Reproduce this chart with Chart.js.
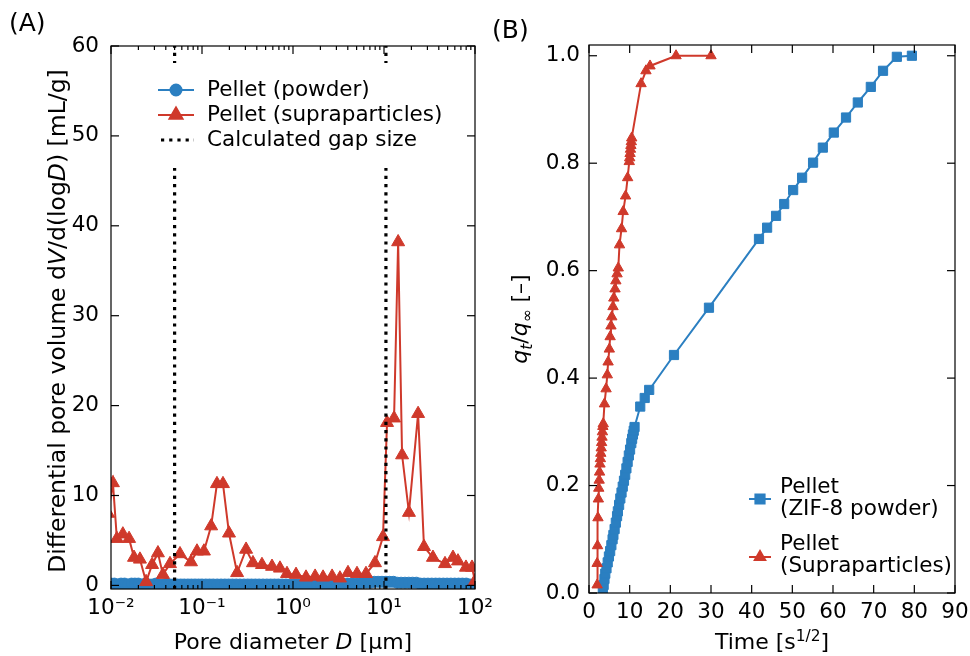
<!DOCTYPE html>
<html>
<head>
<meta charset="utf-8">
<script src="https://cdn.jsdelivr.net/npm/chart.js@4.4.0/dist/chart.umd.min.js"></script>
<style>
  html, body { margin: 0; padding: 0; background: #fff; }
  #wrap { position: relative; width: 970px; height: 656px; overflow: hidden; }
  canvas { position: absolute; top: 0; }
  #ca { left: 0; }
  #cb { left: 485px; }
</style>
</head>
<body>
<div id="wrap">
  <canvas id="ca" width="520" height="656"></canvas>
  <canvas id="cb" width="485" height="656"></canvas>
</div>
<script>
// ---------------- Panel A data ----------------
const poreDiamSupra = [0.0093, 0.0105, 0.0116, 0.0135, 0.0158, 0.0179, 0.0208, 0.0243, 0.0283, 0.0328,
  0.0372, 0.0445, 0.0573, 0.0757, 0.0881, 0.105, 0.126, 0.146, 0.170, 0.198,
  0.243, 0.305, 0.363, 0.456, 0.588, 0.719, 0.859, 1.08, 1.39, 1.75,
  2.14, 2.69, 3.28, 4.02, 5.05, 6.34, 7.96, 9.75, 10.8, 12.9,
  14.3, 15.8, 18.8, 23.7, 27.5, 34.5, 46.8, 57.3, 65.0, 79.6,
  92.7, 100, 110];
const poreVolSupra = [8.0, 11.4, 5.2, 5.7, 5.2, 3.1, 2.9, 0.4, 2.3, 3.6,
  1.2, 2.4, 3.5, 2.6, 3.8, 3.8, 6.6, 11.3, 11.3, 5.8,
  1.4, 4.0, 2.5, 2.3, 2.1, 1.9, 1.3, 1.2, 0.9, 1.0,
  0.9, 1.0, 0.8, 1.4, 1.3, 1.3, 2.5, 5.4, 18.1, 18.6,
  38.2, 14.5, 8.1, 19.1, 4.3, 3.1, 2.4, 3.1, 2.7, 2.0,
  2.0, 0.5, 2.0];

const poreDiamPowder = [0.0100, 0.0109, 0.0118, 0.0129, 0.0141, 0.0154, 0.0168, 0.0183, 0.0200, 0.0219,
  0.0239, 0.0261, 0.0285, 0.0312, 0.0341, 0.0373, 0.0408, 0.0446, 0.0488, 0.0534,
  0.0584, 0.0639, 0.0700, 0.0766, 0.0838, 0.0917, 0.100, 0.110, 0.121, 0.133,
  0.147, 0.162, 0.178, 0.196, 0.216, 0.238, 0.262, 0.289, 0.318, 0.350,
  0.386, 0.425, 0.468, 0.516, 0.568, 0.626, 0.690, 0.760, 0.837, 0.922,
  1.02, 1.12, 1.24, 1.36, 1.50, 1.66, 1.83, 2.01, 2.22, 2.44,
  2.69, 2.97, 3.27, 3.60, 3.97, 4.37, 4.82, 5.31, 5.85, 6.44,
  7.10, 7.82, 8.62, 9.50, 10.5, 11.5, 12.7, 14.0, 15.4, 17.0,
  18.7, 20.6, 22.7, 25.0, 27.6, 30.4, 33.5, 36.9, 40.6, 44.8,
  49.3, 54.3, 59.9, 66.0, 72.7, 80.1, 88.2, 97.2];
const poreVolPowder = [0.2, 0.2, 0.1, 0.2, 0.2, 0.1, 0.2, 0.2, 0.2, 0.1,
  0.2, 0.1, 0.1, 0.2, 0.1, 0.1, 0.2, 0.1, 0.1, 0.1,
  0.1, 0.1, 0.1, 0.1, 0.1, 0.1, 0.1, 0.1, 0.1, 0.1,
  0.1, 0.1, 0.1, 0.1, 0.1, 0.1, 0.1, 0.1, 0.1, 0.1,
  0.1, 0.1, 0.1, 0.1, 0.1, 0.1, 0.1, 0.1, 0.1, 0.1,
  0.1, 0.1, 0.1, 0.1, 0.1, 0.1, 0.1, 0.1, 0.1, 0.1,
  0.1, 0.1, 0.1, 0.1, 0.2, 0.2, 0.2, 0.2, 0.3, 0.3,
  0.3, 0.4, 0.4, 0.4, 0.4, 0.4, 0.4, 0.3, 0.3, 0.3,
  0.3, 0.3, 0.3, 0.2, 0.2, 0.2, 0.2, 0.2, 0.2, 0.2,
  0.2, 0.2, 0.2, 0.2, 0.2, 0.2, 0.1, 0.1];

const gapSizes = [0.05, 10.5];
const poreTickValues = [0.01, 0.1, 1, 10, 100];
const poreTickLabels = ['10\u207B\u00B2', '10\u207B\u00B9', '10\u2070', '10\u00B9', '10\u00B2'];
const volTickValues = [0, 10, 20, 30, 40, 50, 60];
const legendA = ['Pellet (powder)', 'Pellet (supraparticles)', 'Calculated gap size'];

// ---------------- Panel B data ----------------
const timePowder = [3.4, 3.6, 3.8, 4.0, 4.3, 4.6, 4.9, 5.2, 5.5, 5.8,
  6.0, 6.3, 6.6, 6.9, 7.1, 7.4, 7.7, 8.0, 8.3, 8.6,
  8.9, 9.2, 9.5, 9.8, 10.1, 10.4, 10.6, 10.8, 11.0, 11.2,
  12.6, 13.7, 14.8, 20.9, 29.5, 41.8, 43.8, 46.0, 48.0, 50.2,
  52.4, 55.1, 57.5, 60.2, 63.2, 66.1, 69.3, 72.3, 75.7, 79.4];
const uptakePowder = [0.002, 0.015, 0.026, 0.036, 0.046, 0.057, 0.068, 0.078, 0.089, 0.100,
  0.108, 0.119, 0.131, 0.143, 0.152, 0.164, 0.176, 0.187, 0.198, 0.209,
  0.220, 0.232, 0.244, 0.256, 0.267, 0.279, 0.287, 0.295, 0.302, 0.309,
  0.347, 0.363, 0.378, 0.443, 0.531, 0.659, 0.680, 0.702, 0.724, 0.750,
  0.773, 0.801, 0.829, 0.857, 0.885, 0.913, 0.942, 0.972, 0.998, 1.0];

const timeSupra = [2.0, 2.0, 2.1, 2.2, 2.3, 2.4, 2.5, 2.6, 2.7, 2.8,
  2.9, 3.0, 3.1, 3.2, 3.3, 3.4, 3.5, 3.8, 4.2, 4.5,
  4.7, 5.0, 5.2, 5.4, 5.6, 5.9, 6.1, 6.4, 6.6, 6.9,
  7.2, 7.5, 8.0, 8.4, 9.0, 9.5, 9.9, 10.0, 10.1, 10.2,
  10.3, 10.4, 10.5, 12.8, 14.0, 15.0, 21.4, 30.0];
const uptakeSupra = [0.015, 0.055, 0.088, 0.14, 0.175, 0.195, 0.21, 0.225, 0.24, 0.25,
  0.26, 0.27, 0.28, 0.29, 0.30, 0.31, 0.315, 0.352, 0.380, 0.406,
  0.430, 0.454, 0.477, 0.497, 0.514, 0.533, 0.549, 0.566, 0.581, 0.594,
  0.605, 0.648, 0.678, 0.710, 0.739, 0.773, 0.803, 0.810, 0.818, 0.826,
  0.833, 0.840, 0.847, 0.948, 0.972, 0.981, 1.0, 1.0];

const timeTickValues = [0, 10, 20, 30, 40, 50, 60, 70, 80, 90];
const uptakeTickValues = [0, 0.2, 0.4, 0.6, 0.8, 1.0];
const legendB = [['Pellet', '(ZIF-8 powder)'], ['Pellet', '(Supraparticles)']];

// ---------------- styling ----------------
const BLUE = '#2b7fc1';
const RED = '#cf392b';
const FONT = '"DejaVu Sans", sans-serif';
const FS = 21.5;   // tick labels / legend
const TS = 22;     // axis titles
const TSY = 23.5;  // long vertical title in panel A

function segFont(s, size) {
  const sz = (s.sub || s.sup) ? size * 0.7 : size;
  return (s.it ? 'italic ' : '') + sz + 'px ' + FONT;
}
function drawRich(ctx, segs, cx, cy, size, rot) {
  ctx.save();
  ctx.translate(cx, cy);
  if (rot) ctx.rotate(-Math.PI / 2);
  ctx.fillStyle = '#000';
  ctx.textBaseline = 'alphabetic';
  ctx.textAlign = 'left';
  let w = 0;
  segs.forEach(s => { ctx.font = segFont(s, size); w += ctx.measureText(s.t).width; });
  let x = -w / 2;
  const base = size * 0.36;
  segs.forEach(s => {
    ctx.font = segFont(s, size);
    const dy = s.sub ? size * 0.22 : (s.sup ? -size * 0.38 : 0);
    ctx.fillText(s.t, x, base + dy);
    x += ctx.measureText(s.t).width;
  });
  ctx.restore();
}
function drawFrame(ctx, a) {
  ctx.save();
  ctx.strokeStyle = '#000';
  ctx.lineWidth = 1.2;
  ctx.strokeRect(a.left, a.top, a.right - a.left, a.bottom - a.top);
  ctx.restore();
}
function tickLine(ctx, x1, y1, x2, y2) {
  ctx.beginPath(); ctx.moveTo(x1, y1); ctx.lineTo(x2, y2); ctx.stroke();
}
function legendSample(ctx, x1, x2, y, color, style, radius) {
  ctx.save();
  ctx.strokeStyle = color; ctx.lineWidth = 2;
  tickLine(ctx, x1, y, x2, y);
  ctx.fillStyle = color;
  Chart.helpers.drawPoint(ctx, { pointStyle: style, radius: radius, borderWidth: 1, rotation: 0 }, (x1 + x2) / 2, y);
  ctx.restore();
}
function noPad(s) { s.paddingLeft = 0; s.paddingRight = 0; s.paddingTop = 0; s.paddingBottom = 0; }

// ---------------- Panel A ----------------
const decorA = {
  id: 'decorA',
  afterDatasetsDraw(chart) {
    const ctx = chart.ctx, a = chart.chartArea;
    const xs = chart.scales.x, ys = chart.scales.y;
    ctx.save();
    ctx.beginPath(); ctx.rect(a.left, a.top, a.right - a.left, a.bottom - a.top); ctx.clip();
    // gap lines
    ctx.strokeStyle = '#000'; ctx.lineWidth = 3.2; ctx.setLineDash([3.2, 5]);
    gapSizes.forEach(g => {
      const px = xs.getPixelForValue(g);
      tickLine(ctx, px, a.bottom, px, a.top);
    });
    ctx.setLineDash([]);
    // legend background
    ctx.fillStyle = '#fff';
    ctx.fillRect(150, 63, 318, 105);
    ctx.restore();
    const rowY = [90, 115, 140];
    legendSample(ctx, 158, 194, rowY[0], BLUE, 'circle', 5.5);
    legendSample(ctx, 158, 194, rowY[1], RED, 'triangle', 7.5);
    ctx.save();
    ctx.strokeStyle = '#000'; ctx.lineWidth = 3.2; ctx.setLineDash([3.2, 5]);
    tickLine(ctx, 161, rowY[2], 194, rowY[2]);
    ctx.restore();
    ctx.save();
    ctx.fillStyle = '#000'; ctx.font = FS + 'px ' + FONT; ctx.textBaseline = 'middle';
    legendA.forEach((t, i) => ctx.fillText(t, 207, rowY[i]));
    ctx.restore();
    // frame + inward ticks
    drawFrame(ctx, a);
    ctx.save();
    ctx.strokeStyle = '#000'; ctx.lineWidth = 1.2;
    volTickValues.forEach(v => {
      const py = ys.getPixelForValue(v);
      tickLine(ctx, a.left, py, a.left + 8, py);
      tickLine(ctx, a.right, py, a.right - 8, py);
    });
    poreTickValues.forEach((v, i) => {
      const px = xs.getPixelForValue(v);
      tickLine(ctx, px, a.bottom, px, a.bottom - 8);
      tickLine(ctx, px, a.top, px, a.top + 8);
      if (i < poreTickValues.length - 1) {
        for (let m = 2; m <= 9; m++) {
          const pm = xs.getPixelForValue(v * m);
          tickLine(ctx, pm, a.bottom, pm, a.bottom - 4);
          tickLine(ctx, pm, a.top, pm, a.top + 4);
        }
      }
    });
    ctx.restore();
    // axis titles & panel label
    drawRich(ctx, [{ t: 'Differential pore volume d' }, { t: 'V', it: 1 }, { t: '/d(log' }, { t: 'D', it: 1 }, { t: ') [mL/g]' }],
      57, 321, TSY, true);
    drawRich(ctx, [{ t: 'Pore diameter ' }, { t: 'D', it: 1 }, { t: ' [\u00B5m]' }], (a.left + a.right) / 2, 641, TS, false);
    ctx.save();
    ctx.fillStyle = '#000'; ctx.font = '25px ' + FONT; ctx.textBaseline = 'middle';
    ctx.fillText('(A)', 9, 24);
    ctx.restore();
  }
};

new Chart(document.getElementById('ca'), {
  type: 'line',
  data: {
    datasets: [
      {
        label: legendA[1],
        data: poreDiamSupra.map((d, i) => ({ x: d, y: poreVolSupra[i] })),
        borderColor: RED, backgroundColor: RED, pointBackgroundColor: RED, pointBorderColor: RED,
        borderWidth: 2, pointStyle: 'triangle', pointRadius: 7.5, pointBorderWidth: 1, order: 0
      },
      {
        label: legendA[0],
        data: poreDiamPowder.map((d, i) => ({ x: d, y: poreVolPowder[i] })),
        borderColor: BLUE, backgroundColor: BLUE, pointBackgroundColor: BLUE, pointBorderColor: BLUE,
        borderWidth: 2, pointStyle: 'circle', pointRadius: 5.5, pointBorderWidth: 1, order: 1
      }
    ]
  },
  options: {
    responsive: false, animation: false, devicePixelRatio: 1,
    layout: { padding: { left: 0, right: 45, top: 46, bottom: 0 } },
    plugins: { legend: { display: false }, tooltip: { enabled: false } },
    scales: {
      x: {
        type: 'logarithmic', min: 0.01, max: 100,
        grid: { display: false, drawTicks: false }, border: { display: false },
        ticks: {
          color: '#000', font: { family: FONT, size: FS }, padding: 7, autoSkip: false, maxRotation: 0,
          callback: (v) => { const i = poreTickValues.indexOf(v); return i >= 0 ? poreTickLabels[i] : ''; }
        },
        afterBuildTicks: s => { s.ticks = poreTickValues.map(v => ({ value: v })); },
        afterFit: s => { s.height = 67; noPad(s); }
      },
      y: {
        type: 'linear', min: -0.4, max: 60,
        grid: { display: false, drawTicks: false }, border: { display: false },
        ticks: { color: '#000', font: { family: FONT, size: FS }, padding: 12 },
        afterBuildTicks: s => { s.ticks = volTickValues.map(v => ({ value: v })); },
        afterFit: s => { s.width = 111; noPad(s); }
      }
    }
  },
  plugins: [decorA]
});

// ---------------- Panel B ----------------
const decorB = {
  id: 'decorB',
  afterDatasetsDraw(chart) {
    const ctx = chart.ctx, a = chart.chartArea;
    const xs = chart.scales.x, ys = chart.scales.y;
    drawFrame(ctx, a);
    ctx.save();
    ctx.strokeStyle = '#000'; ctx.lineWidth = 1.2;
    uptakeTickValues.forEach(v => {
      const py = ys.getPixelForValue(v);
      tickLine(ctx, a.left, py, a.left + 8, py);
      tickLine(ctx, a.right, py, a.right - 8, py);
    });
    timeTickValues.forEach(v => {
      const px = xs.getPixelForValue(v);
      tickLine(ctx, px, a.bottom, px, a.bottom - 8);
      tickLine(ctx, px, a.top, px, a.top + 8);
    });
    ctx.restore();
    // legend
    legendSample(ctx, 264, 286, 499, BLUE, 'rect', 6.5);
    legendSample(ctx, 264, 286, 557, RED, 'triangle', 6);
    ctx.save();
    ctx.fillStyle = '#000'; ctx.font = FS + 'px ' + FONT; ctx.textBaseline = 'middle';
    ctx.fillText(legendB[0][0], 295, 487);
    ctx.fillText(legendB[0][1], 295, 509);
    ctx.fillText(legendB[1][0], 295, 544);
    ctx.fillText(legendB[1][1], 295, 566);
    ctx.restore();
    // titles
    drawRich(ctx, [{ t: 'q', it: 1 }, { t: 't', it: 1, sub: 1 }, { t: '/' }, { t: 'q', it: 1 }, { t: '\u221E', sub: 1 }, { t: ' [\u2013]' }],
      34, (a.top + a.bottom) / 2, TS, true);
    drawRich(ctx, [{ t: 'Time [s' }, { t: '1/2', sup: 1 }, { t: ']' }], (a.left + a.right) / 2, 641, TS, false);
    ctx.save();
    ctx.fillStyle = '#000'; ctx.font = '25px ' + FONT; ctx.textBaseline = 'middle';
    ctx.fillText('(B)', 7, 31);
    ctx.restore();
  }
};

new Chart(document.getElementById('cb'), {
  type: 'line',
  data: {
    datasets: [
      {
        label: legendB[1].join(' '),
        data: timeSupra.map((t, i) => ({ x: t, y: uptakeSupra[i] })),
        borderColor: RED, backgroundColor: RED, pointBackgroundColor: RED, pointBorderColor: RED,
        borderWidth: 2, pointStyle: 'triangle', pointRadius: 6, pointBorderWidth: 1, order: 0
      },
      {
        label: legendB[0].join(' '),
        data: timePowder.map((t, i) => ({ x: t, y: uptakePowder[i] })),
        borderColor: BLUE, backgroundColor: BLUE, pointBackgroundColor: BLUE, pointBorderColor: BLUE,
        borderWidth: 2, pointStyle: 'rect', pointRadius: 6.5, pointBorderWidth: 1, order: 1
      }
    ]
  },
  options: {
    responsive: false, animation: false, devicePixelRatio: 1,
    layout: { padding: { left: 0, right: 15, top: 45, bottom: 0 } },
    plugins: { legend: { display: false }, tooltip: { enabled: false } },
    scales: {
      x: {
        type: 'linear', min: 0, max: 90,
        grid: { display: false, drawTicks: false }, border: { display: false },
        ticks: { color: '#000', font: { family: FONT, size: FS }, padding: 7, autoSkip: false, maxRotation: 0 },
        afterBuildTicks: s => { s.ticks = timeTickValues.map(v => ({ value: v })); },
        afterFit: s => { s.height = 63; noPad(s); }
      },
      y: {
        type: 'linear', min: 0, max: 1.02,
        grid: { display: false, drawTicks: false }, border: { display: false },
        ticks: { color: '#000', font: { family: FONT, size: FS }, padding: 9, callback: v => v.toFixed(1) },
        afterBuildTicks: s => { s.ticks = uptakeTickValues.map(v => ({ value: v })); },
        afterFit: s => { s.width = 104; noPad(s); }
      }
    }
  },
  plugins: [decorB]
});
</script>
</body>
</html>
